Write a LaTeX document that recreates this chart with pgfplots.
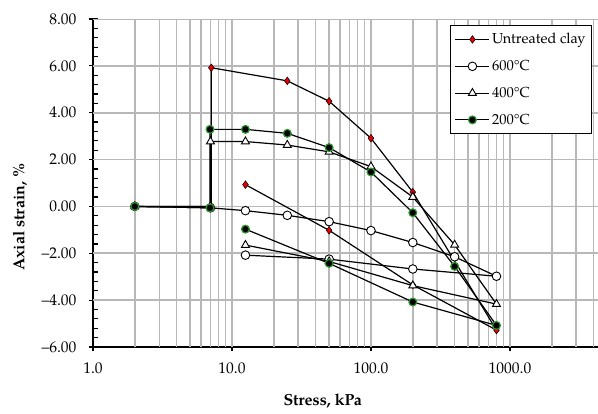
\documentclass[border=0pt]{standalone}
\usepackage{fontspec}
\setmainfont{TeX Gyre Pagella}
\usepackage{pgfplots}
\pgfplotsset{compat=1.18}
\usetikzlibrary{calc}

\definecolor{gridgray}{gray}{0.72}
\definecolor{markred}{RGB}{228,0,0}
\definecolor{markgreen}{RGB}{45,150,45}

\begin{document}
\begin{tikzpicture}
\begin{axis}[
  name=ax,
  scale only axis,
  width=505pt, height=328pt,
  xmode=log,
  xmin=1, xmax=4300,
  ymin=-6, ymax=8,
  axis x line*=bottom, axis y line*=left,
  axis line style={-, line width=1.3pt},
  xtick={1,10,100,1000},
  xticklabels={1.0,10.0,100.0,1000.0},
  ytick={-6,-4,-2,0,2,4,6,8},
  yticklabels={–6.00,–4.00,–2.00,0.00,2.00,4.00,6.00,8.00},
  minor y tick num=4,
  tick align=inside,
  major tick length=5pt, minor tick length=5pt,
  tick style={black, line width=1.2pt},
  % outward halves of the major ticks, so that they cross the axis lines
  extra x ticks={1,10,100,1000}, extra x tick labels={},
  extra y ticks={-6,-4,-2,0,2,4,6,8}, extra y tick labels={},
  extra tick style={tick align=outside, major tick length=4pt},
  ticklabel style={font=\fontsize{15.5}{17}\selectfont},
  xticklabel style={yshift=-12pt},
  yticklabel style={xshift=-13pt},
  xlabel={Stress, kPa},
  ylabel={Axial strain, \%},
  every axis x label/.style={at={(axis description cs:0.455,0)}, anchor=center, yshift=-54pt, font=\bfseries\fontsize{16}{18}\selectfont},
  every axis y label/.style={at={(axis description cs:-0.1446,0.396)}, rotate=90, anchor=center, font=\bfseries\fontsize{16}{18}\selectfont},
  legend style={at={(axis description cs:0.988,0.982)}, anchor=north east,
    draw=black, line width=1pt, fill=white,
    font=\fontsize{14.5}{16}\selectfont,
    row sep=11pt, inner xsep=4pt, inner ysep=6pt,
    cells={anchor=west}},
  legend image code/.code={%
    \draw[mark repeat=2, mark phase=2, #1] plot coordinates {(0pt,0pt) (17pt,0pt) (34pt,0pt)};},
  every axis plot/.append style={black, line width=1.2pt},
]
% grid: every subdivision of each decade, and every second strain unit
\pgfplotsinvokeforeach{2,3,4,5,6,7,8,9,10,20,30,40,50,60,70,80,90,100,200,300,400,500,600,700,800,900,1000,2000,3000,4000}{
  \draw[gridgray, line width=1.6pt] (axis cs:#1,-6) -- (axis cs:#1,8);
}
\pgfplotsinvokeforeach{-4,-2,0,2,4,6,8}{
  \draw[gridgray, line width=1.6pt] (axis cs:1,#1) -- (axis cs:4300,#1);
}
% untreated clay
\addplot[mark=diamond*, mark size=3.8pt,
  mark options={fill=markred, draw=black, line width=0.5pt}]
  coordinates {(2,0) (7.1,0) (7.1,5.92) (25,5.36) (50,4.49) (100,2.91) (200,0.61)
               (800,-5.28) (200,-3.35) (50,-1.02) (12.5,0.93)};
\addlegendentry{Untreated clay}
% 600 C
\addplot[mark=*, mark size=4.3pt,
  mark options={fill=white, draw=black, line width=0.9pt}]
  coordinates {(2,0) (7,-0.06) (12.5,-0.18) (25,-0.38) (50,-0.65) (100,-1.03) (200,-1.54)
               (400,-2.15) (800,-2.98) (200,-2.67) (50,-2.25) (12.5,-2.08)};
\addlegendentry{600°C}
% 400 C
\addplot[mark=triangle*, mark size=4.6pt,
  mark options={fill=white, draw=black, line width=0.9pt}]
  coordinates {(2,0) (7,0) (7,2.77) (12.5,2.77) (25,2.62) (50,2.33) (100,1.70) (200,0.40)
               (400,-1.64) (800,-4.17) (200,-3.38) (50,-2.35) (12.5,-1.65)};
\addlegendentry{400°C}
% 200 C
\addplot[mark=*, mark size=3.9pt,
  mark options={fill=black, draw=markgreen, line width=1.2pt}]
  coordinates {(2,0) (6.95,-0.06) (6.95,3.29) (12.5,3.29) (25,3.12) (50,2.51) (100,1.47)
               (200,-0.27) (400,-2.56) (800,-5.08) (200,-4.08) (50,-2.43) (12.5,-0.97)};
\addlegendentry{200°C}
\end{axis}
\pgfresetboundingbox
\path[use as bounding box] ($(ax.south west)+(-93pt,-66pt)$) rectangle ($(ax.south west)+(505pt,347pt)$);
\end{tikzpicture}
\end{document}
